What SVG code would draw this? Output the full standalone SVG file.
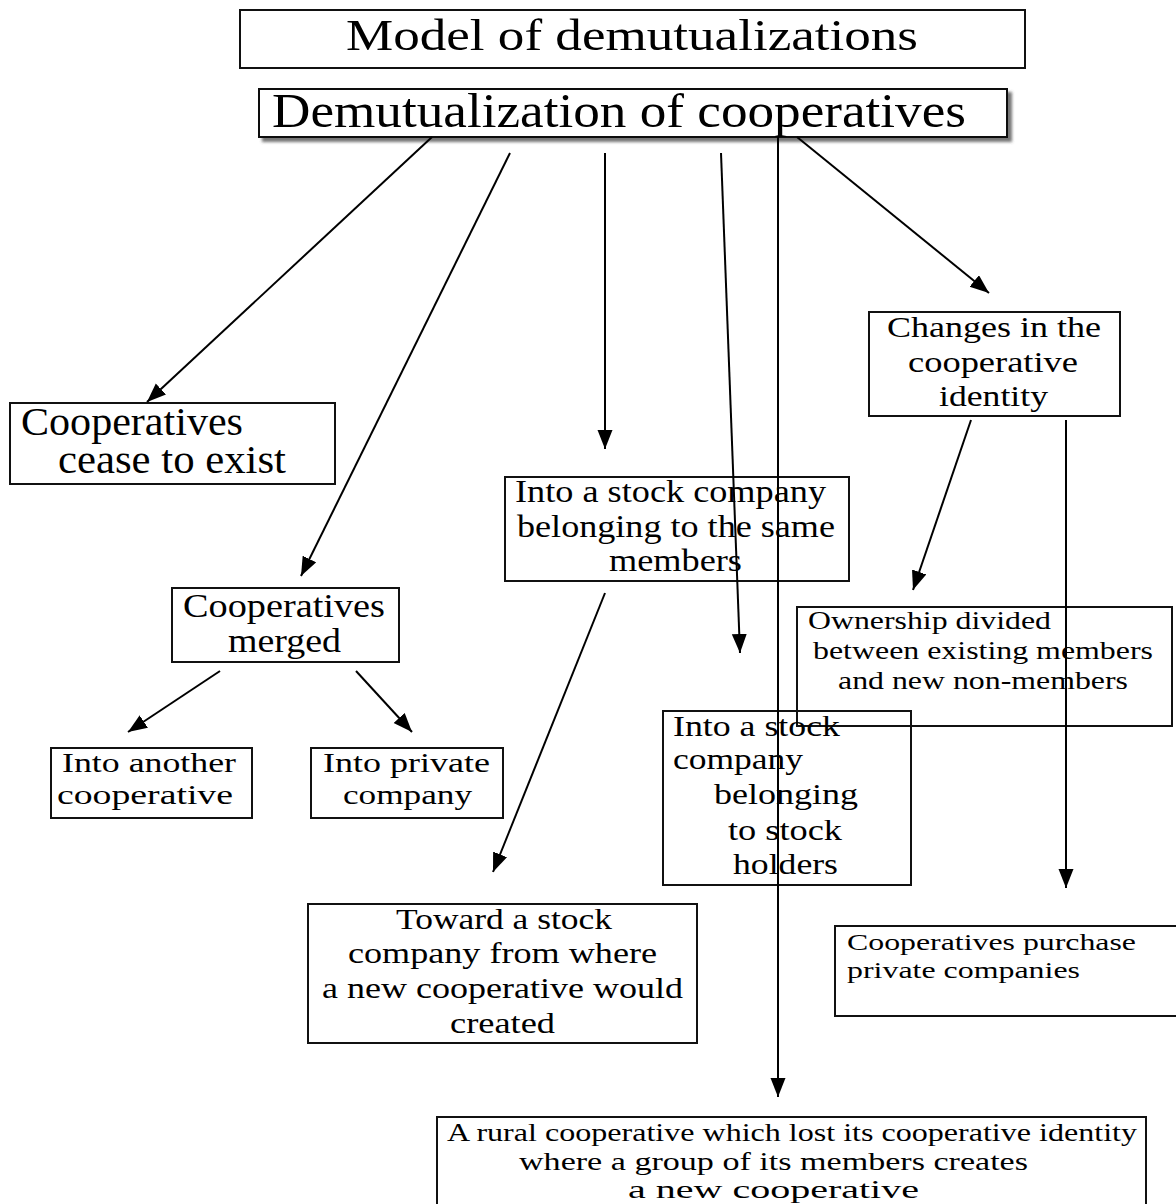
<svg xmlns="http://www.w3.org/2000/svg" width="1176" height="1204" viewBox="0 0 1176 1204">
  <style>
    .box { fill: none; stroke: #111; stroke-width: 2; }
    text { font-family: "Liberation Serif", "Times New Roman", serif; fill: #000; }
    .conn { stroke: #000; stroke-width: 2; fill: none; marker-end: url(#head); }
  </style>
  <defs>
    <marker id="head" markerUnits="userSpaceOnUse" markerWidth="20" markerHeight="16" refX="19" refY="7.5" orient="auto">
      <path d="M0,0 L19,7.5 L0,15 z" fill="#000"/>
    </marker>
    <filter id="shadow" x="-5%" y="-20%" width="115%" height="150%">
      <feDropShadow dx="4" dy="4" stdDeviation="1.5" flood-color="#555" flood-opacity="0.8"/>
    </filter>
  </defs>

  <rect width="1176" height="1204" fill="#fff"/>

  <!-- nodes: every line is its own text so textLength stretches the glyphs -->
  <g id="title">
    <rect class="box" x="240" y="10" width="785" height="58"/>
    <text x="346" y="50" font-size="44" textLength="572" lengthAdjust="spacingAndGlyphs">Model of demutualizations</text>
  </g>

  <g id="root">
    <rect x="259" y="89" width="748" height="48" fill="#fff" stroke="#111" stroke-width="2" filter="url(#shadow)"/>
    <text x="272" y="127" font-size="49" textLength="694" lengthAdjust="spacingAndGlyphs">Demutualization of cooperatives</text>
  </g>

  <g id="cease" font-size="39">
    <rect class="box" x="10" y="403" width="325" height="81"/>
    <text x="21" y="435" textLength="222" lengthAdjust="spacingAndGlyphs">Cooperatives</text>
    <text x="58" y="473" textLength="228" lengthAdjust="spacingAndGlyphs">cease to exist</text>
  </g>

  <g id="merged" font-size="34">
    <rect class="box" x="172" y="588" width="227" height="74"/>
    <text x="183" y="617" textLength="202" lengthAdjust="spacingAndGlyphs">Cooperatives</text>
    <text x="228" y="652" textLength="113" lengthAdjust="spacingAndGlyphs">merged</text>
  </g>

  <g id="another" font-size="27">
    <rect class="box" x="51" y="748" width="201" height="70"/>
    <text x="62" y="772" textLength="174" lengthAdjust="spacingAndGlyphs">Into another</text>
    <text x="57" y="804" textLength="176" lengthAdjust="spacingAndGlyphs">cooperative</text>
  </g>

  <g id="private" font-size="27">
    <rect class="box" x="311" y="748" width="192" height="70"/>
    <text x="323" y="772" textLength="167" lengthAdjust="spacingAndGlyphs">Into private</text>
    <text x="343" y="804" textLength="129" lengthAdjust="spacingAndGlyphs">company</text>
  </g>

  <g id="stock-same" font-size="31">
    <rect class="box" x="505" y="477" width="344" height="104"/>
    <text x="515" y="502" textLength="311" lengthAdjust="spacingAndGlyphs">Into a stock company</text>
    <text x="517" y="537" textLength="318" lengthAdjust="spacingAndGlyphs">belonging to the same</text>
    <text x="609" y="571" textLength="133" lengthAdjust="spacingAndGlyphs">members</text>
  </g>

  <g id="identity" font-size="30">
    <rect class="box" x="869" y="312" width="251" height="104"/>
    <text x="887" y="337" textLength="214" lengthAdjust="spacingAndGlyphs">Changes in the</text>
    <text x="908" y="372" textLength="170" lengthAdjust="spacingAndGlyphs">cooperative</text>
    <text x="939" y="406" textLength="109" lengthAdjust="spacingAndGlyphs">identity</text>
  </g>

  <g id="ownership" font-size="26">
    <rect class="box" x="797" y="607" width="375" height="119"/>
    <text x="808" y="629" textLength="243" lengthAdjust="spacingAndGlyphs">Ownership divided</text>
    <text x="813" y="659" textLength="340" lengthAdjust="spacingAndGlyphs">between existing members</text>
    <text x="838" y="689" textLength="290" lengthAdjust="spacingAndGlyphs">and new non-members</text>
  </g>

  <g id="stock-holders" font-size="30">
    <rect class="box" x="663" y="711" width="248" height="174"/>
    <text x="673" y="736" textLength="167" lengthAdjust="spacingAndGlyphs">Into a stock</text>
    <text x="673" y="769" textLength="130" lengthAdjust="spacingAndGlyphs">company</text>
    <text x="714" y="804" textLength="144" lengthAdjust="spacingAndGlyphs">belonging</text>
    <text x="728" y="840" textLength="114" lengthAdjust="spacingAndGlyphs">to stock</text>
    <text x="733" y="874" textLength="105" lengthAdjust="spacingAndGlyphs">holders</text>
  </g>

  <g id="toward" font-size="30">
    <rect class="box" x="308" y="904" width="389" height="139"/>
    <text x="396" y="929" textLength="216" lengthAdjust="spacingAndGlyphs">Toward a stock</text>
    <text x="348" y="963" textLength="309" lengthAdjust="spacingAndGlyphs">company from where</text>
    <text x="322" y="998" textLength="361" lengthAdjust="spacingAndGlyphs">a new cooperative would</text>
    <text x="450" y="1033" textLength="105" lengthAdjust="spacingAndGlyphs">created</text>
  </g>

  <g id="purchase" font-size="24">
    <rect class="box" x="835" y="926" width="350" height="90"/>
    <text x="847" y="950" textLength="289" lengthAdjust="spacingAndGlyphs">Cooperatives purchase</text>
    <text x="847" y="978" textLength="233" lengthAdjust="spacingAndGlyphs">private companies</text>
  </g>

  <g id="rural" font-size="25">
    <rect class="box" x="437" y="1117" width="709" height="100"/>
    <text x="447" y="1141" textLength="690" lengthAdjust="spacingAndGlyphs">A rural cooperative which lost its cooperative identity</text>
    <text x="519" y="1170" textLength="509" lengthAdjust="spacingAndGlyphs">where a group of its members creates</text>
    <text x="628" y="1198" textLength="291" lengthAdjust="spacingAndGlyphs">a new cooperative</text>
  </g>

  <!-- connectors -->
  <g id="connectors">
    <line class="conn" x1="432" y1="137" x2="147" y2="402"/>
    <line class="conn" x1="510" y1="153" x2="301" y2="576"/>
    <line class="conn" x1="605" y1="153" x2="605" y2="449"/>
    <line class="conn" x1="721" y1="153" x2="740" y2="653"/>
    <line class="conn" x1="778" y1="137" x2="778" y2="1097"/>
    <line class="conn" x1="797" y1="137" x2="989" y2="293"/>
    <line class="conn" x1="220" y1="671" x2="128" y2="732"/>
    <line class="conn" x1="356" y1="671" x2="412" y2="732"/>
    <line class="conn" x1="605" y1="593" x2="493" y2="872"/>
    <line class="conn" x1="971" y1="420" x2="913" y2="590"/>
    <line class="conn" x1="1066" y1="420" x2="1066" y2="888"/>
  </g>
</svg>
